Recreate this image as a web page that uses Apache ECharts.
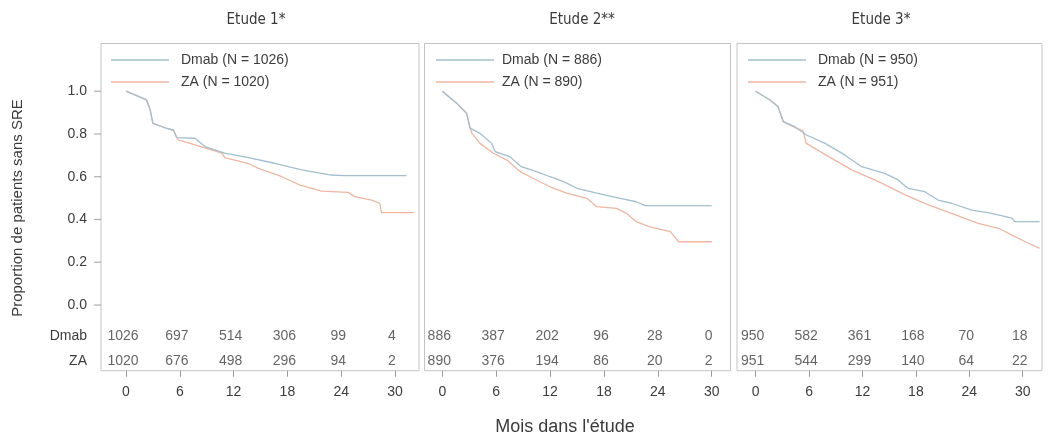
<!DOCTYPE html>
<html>
<head>
<meta charset="utf-8">
<script src="https://cdn.jsdelivr.net/npm/echarts@6/dist/echarts.min.js"></script>
<style>
html,body{margin:0;padding:0;background:#fff;}
#chart{width:1052px;height:441px;}
</style>
</head>
<body>
<div id="chart"></div>
<script>
// ---------------- DATA ----------------
const panelTitles = ['Etude 1*', 'Etude 2**', 'Etude 3*'];
const groupNames = ['Dmab', 'ZA'];
const nDmab = [1026, 886, 950];
const nZA = [1020, 890, 951];
const monthTicks = [0, 6, 12, 18, 24, 30];
const survTicks = [0, 0.2, 0.4, 0.6, 0.8, 1.0];

// numbers at risk at months 0,6,12,18,24,30
const riskDmab1 = [1026, 697, 514, 306, 99, 4];
const riskZA1   = [1020, 676, 498, 296, 94, 2];
const riskDmab2 = [886, 387, 202, 96, 28, 0];
const riskZA2   = [890, 376, 194, 86, 20, 2];
const riskDmab3 = [950, 582, 361, 168, 70, 18];
const riskZA3   = [951, 544, 299, 140, 64, 22];

// Kaplan-Meier curves [month, proportion without SRE]
const kmDmab1 = [[0,1],[2.3,0.959],[2.7,0.912],[3.0,0.850],[4.35,0.829],[5.3,0.819],[5.65,0.783],[7.7,0.780],[8.8,0.741],[11.0,0.710],[13.5,0.690],[16.6,0.663],[19.6,0.632],[22.9,0.608],[24.4,0.605],[31.3,0.605]];
const kmZA1   = [[0,1],[2.3,0.959],[2.7,0.912],[3.0,0.850],[4.35,0.829],[5.3,0.815],[5.83,0.772],[7.7,0.749],[10.7,0.710],[11.0,0.689],[13.6,0.663],[14.7,0.640],[17.4,0.600],[19.4,0.561],[21.8,0.533],[24.8,0.527],[25.5,0.507],[27.4,0.491],[28.3,0.476],[28.5,0.432],[32.1,0.432]];
const kmDmab2 = [[0,1],[1.6,0.944],[2.7,0.897],[3.1,0.827],[4.2,0.803],[5.5,0.756],[5.9,0.717],[7.5,0.694],[8.8,0.647],[10.5,0.624],[12.0,0.600],[13.5,0.577],[15.0,0.546],[17.2,0.523],[19.8,0.499],[21.6,0.483],[22.6,0.465],[30.0,0.465]];
const kmZA2   = [[0,1],[1.6,0.944],[2.7,0.897],[3.1,0.827],[3.3,0.803],[4.2,0.756],[5.7,0.710],[7.2,0.678],[8.65,0.624],[10.1,0.593],[12.0,0.553],[13.85,0.523],[16.1,0.499],[17.2,0.460],[19.4,0.452],[20.5,0.429],[21.6,0.390],[23.1,0.366],[25.4,0.343],[26.3,0.296],[30.0,0.296]];
const kmDmab3 = [[0,1],[1.6,0.959],[2.5,0.928],[3.1,0.858],[4.4,0.834],[5.7,0.795],[7.8,0.756],[10.0,0.702],[11.9,0.647],[14.5,0.616],[16.0,0.585],[17.1,0.546],[19.0,0.530],[20.5,0.491],[22.0,0.476],[24.3,0.444],[26.5,0.429],[28.8,0.406],[29.1,0.390],[31.9,0.390]];
const kmZA3   = [[0,1],[1.6,0.959],[2.5,0.928],[3.1,0.858],[4.4,0.830],[5.3,0.815],[5.7,0.756],[8.2,0.694],[10.8,0.632],[13.8,0.577],[16.8,0.515],[19.4,0.468],[22.0,0.429],[25.0,0.382],[27.3,0.359],[28.8,0.327],[30.3,0.296],[31.9,0.265]];

// ---------------- LAYOUT / STYLE ----------------
const COL_DMAB = '#a3bfcd';
const COL_ZA = '#efb6a3';
const TXT = '#3c3c3c';
const BORDER = '#c4c4c4';
const TICK = '#9a9a9a';
const NARROW = '"Liberation Sans Narrow","DejaVu Sans Condensed","Liberation Sans",sans-serif';
const SANS = '"Liberation Sans",Arial,sans-serif';
const ROW_DMAB = -0.145, ROW_ZA = -0.262;
const Y_MIN = -0.307, Y_MAX = 1.223;

const panels = [
  {left: 101, width: 318, xmin: -2.79, xmax: 32.68, dm: kmDmab1, za: kmZA1, rd: riskDmab1, rz: riskZA1, legLeft: 111, legPad: 7, titleX: 256},
  {left: 424.5, width: 306, xmin: -1.98, xmax: 32.09, dm: kmDmab2, za: kmZA2, rd: riskDmab2, rz: riskZA2, legLeft: 436, legPad: 3, titleX: 582},
  {left: 737, width: 305, xmin: -2.10, xmax: 32.17, dm: kmDmab3, za: kmZA3, rd: riskDmab3, rz: riskZA3, legLeft: 748, legPad: 7, titleX: 881}
];

const grid = [], xAxis = [], yAxis = [], series = [], legend = [], graphic = [];

panels.forEach((p, i) => {
  grid.push({left: p.left, top: 43.5, width: p.width, height: 327.2, show: true,
    borderColor: BORDER, borderWidth: 1, containLabel: false});
  xAxis.push({type: 'value', gridIndex: i, min: p.xmin, max: p.xmax, position: 'bottom',
    axisLine: {show: false, onZero: false}, splitLine: {show: false},
    axisTick: {show: true, inside: false, length: 6, customValues: monthTicks, lineStyle: {color: TICK}},
    axisLabel: {show: true, customValues: monthTicks, margin: 14, color: TXT, fontSize: 14, fontFamily: SANS}});
  yAxis.push({type: 'value', gridIndex: i, min: Y_MIN, max: Y_MAX, position: 'left',
    axisLine: {show: false, onZero: false}, splitLine: {show: false},
    axisTick: {show: false},
    axisLabel: {show: i === 0, customValues: survTicks.concat([ROW_DMAB, ROW_ZA]), margin: 14, color: TXT, fontSize: 14, fontFamily: SANS,
      formatter: v => v >= 0 ? v.toFixed(1) : (Math.abs(v - ROW_DMAB) < 0.05 ? groupNames[0] : groupNames[1])}});
});

// narrow strip left of panel 1 holding the survival-axis tick marks (same y scale as panel 1)
grid.push({left: 94, top: 43.5, width: 7, height: 327.2, show: false, containLabel: false});
xAxis.push({type: 'value', gridIndex: 3, min: 0, max: 1, show: false});
yAxis.push({type: 'value', gridIndex: 3, min: Y_MIN, max: Y_MAX, show: false});
series.push({type: 'scatter', xAxisIndex: 3, yAxisIndex: 3, silent: true, animation: false,
  data: survTicks.map(v => [0.5, v]), symbol: 'rect', symbolSize: [7, 1.2],
  itemStyle: {color: TICK}, z: 5});

panels.forEach((p, i) => {
  const nameD = groupNames[0] + ' (N = ' + nDmab[i] + ')';
  const nameZ = groupNames[1] + ' (N = ' + nZA[i] + ')';
  series.push({type: 'line', name: nameZ, xAxisIndex: i, yAxisIndex: i, data: p.za,
    symbol: 'none', showSymbol: false, animation: false, lineStyle: {color: COL_ZA, width: 1.3}, itemStyle: {color: COL_ZA}, z: 2});
  series.push({type: 'line', name: nameD, xAxisIndex: i, yAxisIndex: i, data: p.dm,
    symbol: 'none', showSymbol: false, animation: false, lineStyle: {color: COL_DMAB, width: 1.3}, itemStyle: {color: COL_DMAB}, z: 3});
  const risk = [];
  monthTicks.forEach((m, k) => {
    risk.push([m, ROW_DMAB, p.rd[k]]);
    risk.push([m, ROW_ZA, p.rz[k]]);
  });
  series.push({type: 'scatter', xAxisIndex: i, yAxisIndex: i, data: risk, symbolSize: 1, silent: true, animation: false,
    itemStyle: {color: 'rgba(0,0,0,0)'},
    label: {show: true, position: 'inside', offset: [-3, 0], formatter: q => String(q.value[2]), color: TXT, fontSize: 14, fontFamily: SANS}});
  legend.push({data: [nameD, nameZ], orient: 'vertical', left: p.legLeft, top: 52, padding: 0, icon: 'rect',
    itemWidth: 58, itemHeight: 1.4, itemGap: 6,
    textStyle: {color: TXT, fontSize: 14, lineHeight: 16, fontFamily: SANS, padding: [0, 0, 0, p.legPad]}, selectedMode: false});
  graphic.push({type: 'text', x: p.titleX, y: 20, silent: true,
    style: {text: panelTitles[i], fill: '#3a3a3a', font: '15px ' + NARROW, align: 'center', verticalAlign: 'middle'}});
});

graphic.push({type: 'text', x: 565, y: 427, silent: true,
  style: {text: "Mois dans l'étude", fill: '#3a3a3a', font: '18px ' + SANS, align: 'center', verticalAlign: 'middle'}});
graphic.push({type: 'text', x: 18, y: 208, rotation: Math.PI / 2, silent: true,
  style: {text: 'Proportion de patients sans SRE', fill: '#3a3a3a', font: '15px ' + SANS, align: 'center', verticalAlign: 'middle'}});

const chart = echarts.init(document.getElementById('chart'), null, {renderer: 'canvas'});
chart.setOption({animation: false, backgroundColor: '#fff', grid, xAxis, yAxis, series, legend, graphic});
</script>
</body>
</html>
